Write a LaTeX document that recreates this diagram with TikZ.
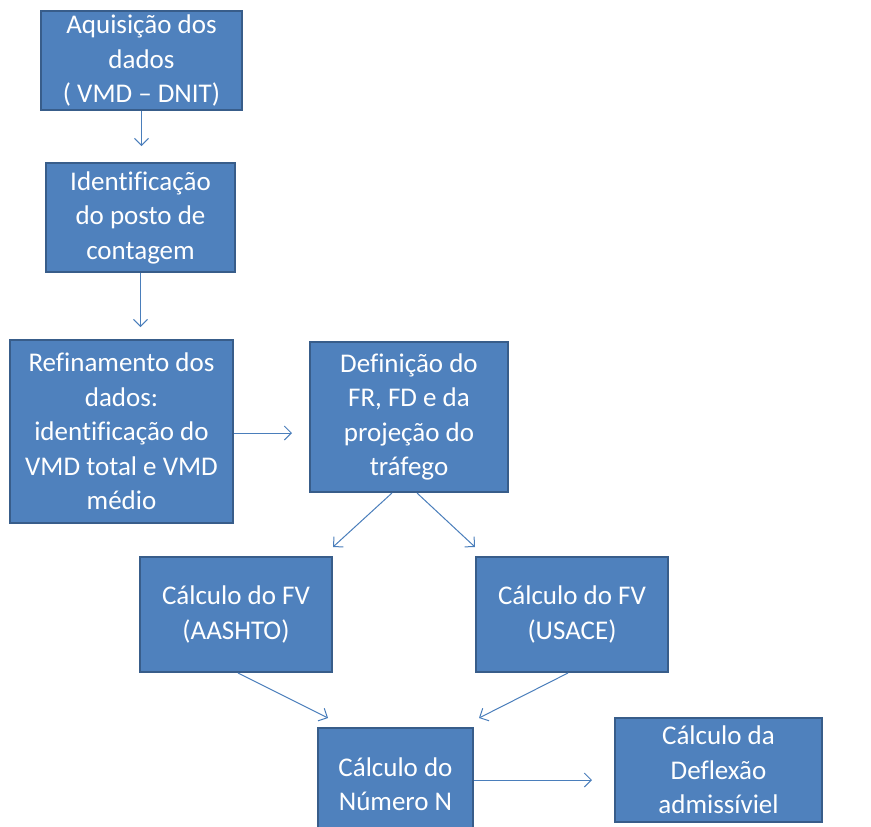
\documentclass[tikz,border=0pt]{standalone}
\usepackage{fontspec}
\setmainfont{Carlito}[Ligatures=NoCommon]
\usetikzlibrary{arrows.meta,calc}
\definecolor{boxfill}{HTML}{4F81BD}
\definecolor{boxline}{HTML}{385D8A}
\definecolor{arrowcol}{HTML}{4A7EBB}
\tikzset{
  flowbox/.style={draw=boxline, fill=boxfill, line width=2pt, text=white, align=center,
    inner sep=0pt, font=\fontsize{27}{34.5}\selectfont},
  flowarrow/.style={draw=arrowcol, line width=1pt, -{Straight Barb[length=7pt,width=14pt]}}
}
\begin{document}
\begin{tikzpicture}[x=1pt,y=-1pt]
\useasboundingbox (0,0) rectangle (871,827);
\node[flowbox, minimum width=201pt, minimum height=99pt] (b1) at (141.5,60.5) {Aquisição dos\\dados\\( VMD – DNIT)};
\node[flowbox, minimum width=189pt, minimum height=109pt] (b2) at (140.5,217.5) {Identificação\\do posto de\\contagem};
\node[flowbox, minimum width=223pt, minimum height=183pt] (b3) at (121.5,431.5) {Refinamento dos\\dados:\\identificação do\\VMD total e VMD\\médio};
\node[flowbox, minimum width=198pt, minimum height=150pt] (b4) at (409,417) {Definição do\\FR, FD e da\\projeção do\\tráfego};
\node[flowbox, minimum width=192pt, minimum height=115pt] (b5) at (236,614.5) {Cálculo do FV\\(AASHTO)};
\node[flowbox, minimum width=192pt, minimum height=115pt] (b6) at (572,614.5) {Cálculo do FV\\(USACE)};
\node[flowbox, minimum width=155pt, minimum height=112pt] (b7) at (395.5,784) {Cálculo do\\Número N};
\node[flowbox, minimum width=207pt, minimum height=104pt] (b8) at (718.5,770) {Cálculo da\\Deflexão\\admissíviel};

\draw[flowarrow, shorten >=16pt] (b1.south) -- (b1.south |- b2.north);
\draw[flowarrow, shorten >=12pt] (b2.south) -- (b2.south |- b3.north);
\draw[flowarrow, shorten >=17pt] ([yshift=-1.5pt]b3.east) -- ([yshift=-1.5pt]b3.east -| b4.west);
\draw[flowarrow] ([xshift=-17pt]b4.south) -- ([yshift=9pt]b5.north east);
\draw[flowarrow] ([xshift=8pt]b4.south) -- ([yshift=9pt]b6.north west);
\draw[flowarrow] ([xshift=2pt]b5.south) -- ([xshift=11pt,yshift=9pt]b7.north west);
\draw[flowarrow] ([xshift=-4pt]b6.south) -- ([xshift=5pt,yshift=9pt]b7.north east);
\draw[flowarrow, shorten >=22pt] ([yshift=4pt]b7.east) -- ([yshift=4pt]b7.east -| b8.west);
\end{tikzpicture}
\end{document}
